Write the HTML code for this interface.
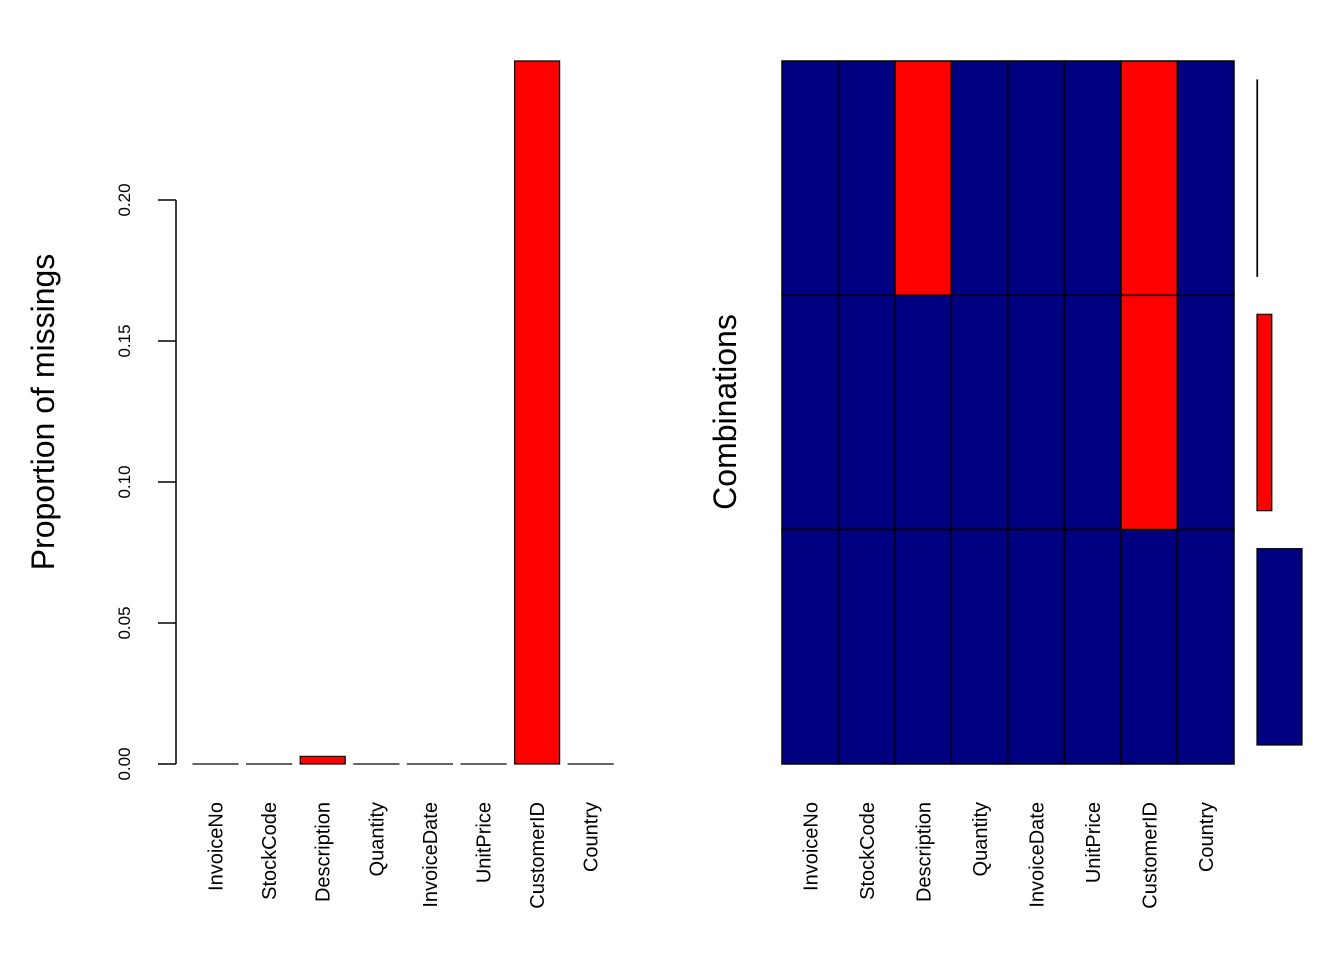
<!DOCTYPE html>
<html><head><meta charset="utf-8"><style>body{margin:0;background:#fff}svg{display:block}text{font-family:"Liberation Sans",Arial,sans-serif}</style></head>
<body>
<svg id="c" width="1344" height="960"></svg>
<script>
const variables=["InvoiceNo","StockCode","Description","Quantity","InvoiceDate","UnitPrice","CustomerID","Country"];
const missingProp=[0,0,0.0027,0,0,0,0.2493,0];
const yTicks=[0,0.05,0.10,0.15,0.20];
const yTickLabels=["0.00","0.05","0.10","0.15","0.20"];
const combos=[[0,0,1,0,0,0,1,0],[0,0,0,0,0,0,1,0],[0,0,0,0,0,0,0,0]];
const comboFreq=[0.0027,0.2466,0.7507];
const NS="http://www.w3.org/2000/svg";
const svg=document.getElementById('c');
function mk(t,a,txt){const e=document.createElementNS(NS,t);for(const k in a)e.setAttribute(k,a[k]);if(txt!==undefined)e.textContent=txt;svg.appendChild(e);return e;}
// left chart
const y0=764,pxPer=2820;
const yS=v=>y0-v*pxPer;
const slot=53.6,bx0=193,bw=45;
const xS=i=>bx0+i*slot;
let e=mk('line',{x1:176,x2:176,y1:yS(yTicks[0]),y2:yS(yTicks[yTicks.length-1]),stroke:'#000','stroke-width':1.5});

yTicks.forEach((t,i)=>{
 e=mk('line',{x1:158,x2:176,y1:yS(t),y2:yS(t),stroke:'#000','stroke-width':1.5});
 
 e=mk('text',{x:0,y:0,transform:`translate(130,${yS(t)}) rotate(-90)`,'text-anchor':'middle','font-size':17},yTickLabels[i]);
 
});
e=mk('text',{x:0,y:0,transform:'translate(54,412) rotate(-90)','text-anchor':'middle','font-size':32},'Proportion of missings');

variables.forEach((v,i)=>{
 const h=missingProp[i]*pxPer;
 e=mk('rect',{x:xS(i),y:y0-h,width:bw,height:Math.max(h,0.01),fill:'#ff0000',stroke:'#000','stroke-width':1.2});
 
 e=mk('text',{x:0,y:0,transform:`translate(${xS(i)+bw/2+7},802) rotate(-90)`,'text-anchor':'end','font-size':20},v);
 
});
// right chart
const gx0=782,gx1=1234,gy0=61,gy1=764;
const cw=(gx1-gx0)/variables.length,rh=(gy1-gy0)/combos.length;
combos.forEach((row,r)=>row.forEach((m,c)=>{
 e=mk('rect',{x:gx0+c*cw,y:gy0+r*rh,width:cw,height:rh,fill:m?'#ff0000':'#000080',stroke:'#000','stroke-width':1.5});
 
}));
variables.forEach((v,i)=>{
 e=mk('text',{x:0,y:0,transform:`translate(${gx0+(i+0.5)*cw+7},802) rotate(-90)`,'text-anchor':'end','font-size':20},v);
 
});
e=mk('text',{x:0,y:0,transform:'translate(736,412) rotate(-90)','text-anchor':'middle','font-size':32},'Combinations');

const fmax=Math.max(...comboFreq),fx0=1257,fw=45;
comboFreq.forEach((f,r)=>{
 const w=f/fmax*fw;
 e=mk('rect',{x:fx0,y:gy0+r*rh+19,width:Math.max(w,0.5),height:rh-38,fill:r===2?'#000080':'#ff0000',stroke:'#000','stroke-width':1.2});
 
});
</script>
</body></html>
